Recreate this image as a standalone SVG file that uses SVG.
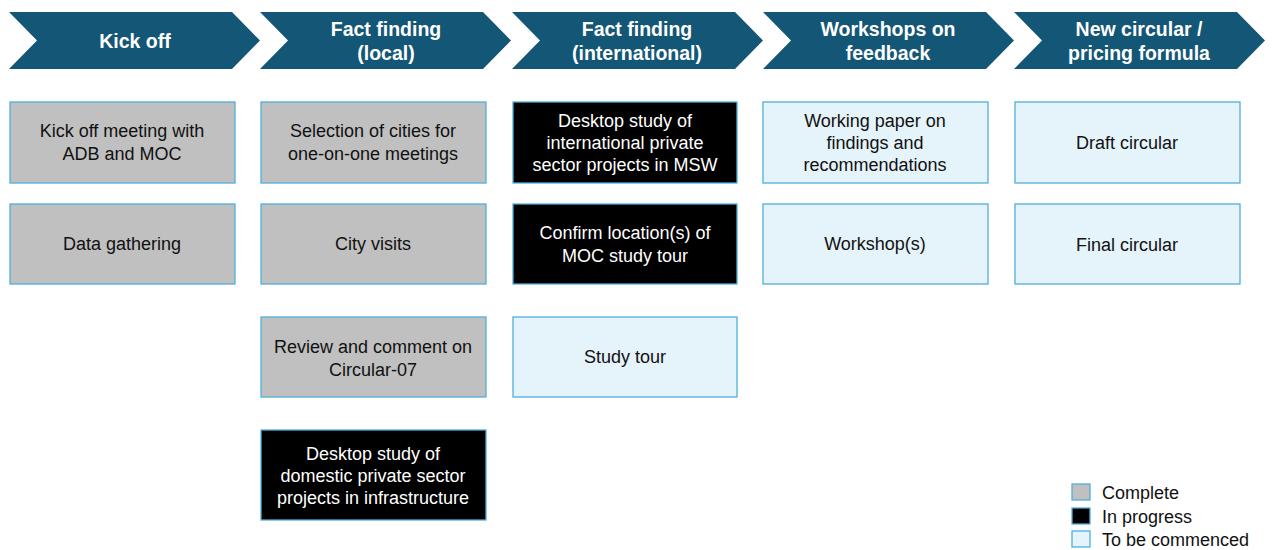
<svg xmlns="http://www.w3.org/2000/svg" width="1272" height="550" viewBox="0 0 1272 550">
  <defs>
    <style>
      .phase { fill: #135675; }
      .phase-label { font-family: "Liberation Sans", Arial, sans-serif; font-weight: bold; font-size: 19.5px; fill: #ffffff; text-anchor: middle; }
      .box { stroke: #4fb0dc; stroke-width: 1.3; }
      .done { fill: #c0c0c0; }
      .doing { fill: #000000; }
      .todo { fill: #e5f3fb; }
      .lbl { font-family: "Liberation Sans", Arial, sans-serif; font-size: 18px; text-anchor: middle; fill: #111111; }
      .lbl.inv { fill: #ffffff; }
      .legend-text { font-family: "Liberation Sans", Arial, sans-serif; font-size: 18px; fill: #111111; }
    </style>
    <!-- chevron shape, origin at its top-left corner -->
    <path id="chev" d="M0,12 L223,12 L251,40.5 L223,69 L0,69 L28,40.5 Z"/>
  </defs>

  <!-- phase chevrons -->
  <g id="phase-kickoff">
    <use href="#chev" x="9" class="phase"/>
    <text class="phase-label" x="135" y="48">Kick off</text>
  </g>
  <g id="phase-local">
    <use href="#chev" x="260" class="phase"/>
    <text class="phase-label" x="386" y="36">Fact finding</text>
    <text class="phase-label" x="386" y="60">(local)</text>
  </g>
  <g id="phase-international">
    <use href="#chev" x="512" class="phase"/>
    <text class="phase-label" x="637" y="36">Fact finding</text>
    <text class="phase-label" x="637" y="60">(international)</text>
  </g>
  <g id="phase-workshops">
    <use href="#chev" x="763" class="phase"/>
    <text class="phase-label" x="888" y="36">Workshops on</text>
    <text class="phase-label" x="888" y="60">feedback</text>
  </g>
  <g id="phase-circular">
    <use href="#chev" x="1014" class="phase"/>
    <text class="phase-label" x="1139" y="36">New circular /</text>
    <text class="phase-label" x="1139" y="60">pricing formula</text>
  </g>

  <!-- column 1: kick off -->
  <g id="task-kickoff-meeting">
    <rect class="box done" x="10" y="102" width="225" height="81"/>
    <text class="lbl" x="122" y="137">Kick off meeting with</text>
    <text class="lbl" x="122" y="160">ADB and MOC</text>
  </g>
  <g id="task-data-gathering">
    <rect class="box done" x="10" y="204" width="225" height="80"/>
    <text class="lbl" x="122" y="250">Data gathering</text>
  </g>

  <!-- column 2: local fact finding -->
  <g id="task-city-selection">
    <rect class="box done" x="261" y="102" width="225" height="81"/>
    <text class="lbl" x="373" y="137">Selection of cities for</text>
    <text class="lbl" x="373" y="160">one-on-one meetings</text>
  </g>
  <g id="task-city-visits">
    <rect class="box done" x="261" y="204" width="225" height="80"/>
    <text class="lbl" x="373" y="250">City visits</text>
  </g>
  <g id="task-review-circular">
    <rect class="box done" x="261" y="317" width="225" height="80"/>
    <text class="lbl" x="373" y="353">Review and comment on</text>
    <text class="lbl" x="373" y="376">Circular-07</text>
  </g>
  <g id="task-domestic-study">
    <rect class="box doing" x="261" y="430" width="225" height="90"/>
    <text class="lbl inv" x="373" y="460">Desktop study of</text>
    <text class="lbl inv" x="373" y="482">domestic private sector</text>
    <text class="lbl inv" x="373" y="504">projects in infrastructure</text>
  </g>

  <!-- column 3: international fact finding -->
  <g id="task-international-study">
    <rect class="box doing" x="513" y="102" width="224" height="81"/>
    <text class="lbl inv" x="625" y="127">Desktop study of</text>
    <text class="lbl inv" x="625" y="149">international private</text>
    <text class="lbl inv" x="625" y="171">sector projects in MSW</text>
  </g>
  <g id="task-tour-location">
    <rect class="box doing" x="513" y="204" width="224" height="80"/>
    <text class="lbl inv" x="625" y="239">Confirm location(s) of</text>
    <text class="lbl inv" x="625" y="262">MOC study tour</text>
  </g>
  <g id="task-study-tour">
    <rect class="box todo" x="513" y="317" width="224" height="80"/>
    <text class="lbl" x="625" y="363">Study tour</text>
  </g>

  <!-- column 4: workshops -->
  <g id="task-working-paper">
    <rect class="box todo" x="763" y="102" width="225" height="81"/>
    <text class="lbl" x="875" y="127">Working paper on</text>
    <text class="lbl" x="875" y="149">findings and</text>
    <text class="lbl" x="875" y="171">recommendations</text>
  </g>
  <g id="task-workshops">
    <rect class="box todo" x="763" y="204" width="225" height="80"/>
    <text class="lbl" x="875" y="250">Workshop(s)</text>
  </g>

  <!-- column 5: new circular -->
  <g id="task-draft-circular">
    <rect class="box todo" x="1015" y="102" width="225" height="81"/>
    <text class="lbl" x="1127" y="149">Draft circular</text>
  </g>
  <g id="task-final-circular">
    <rect class="box todo" x="1015" y="204" width="225" height="80"/>
    <text class="lbl" x="1127" y="251">Final circular</text>
  </g>

  <!-- status legend -->
  <g id="legend">
    <rect class="box done" x="1072" y="484" width="18" height="16"/>
    <text class="legend-text" x="1102" y="499">Complete</text>
    <rect class="box doing" x="1072" y="508" width="18" height="16"/>
    <text class="legend-text" x="1102" y="523">In progress</text>
    <rect class="box todo" x="1072" y="531" width="18" height="16"/>
    <text class="legend-text" x="1102" y="546">To be commenced</text>
  </g>
</svg>
